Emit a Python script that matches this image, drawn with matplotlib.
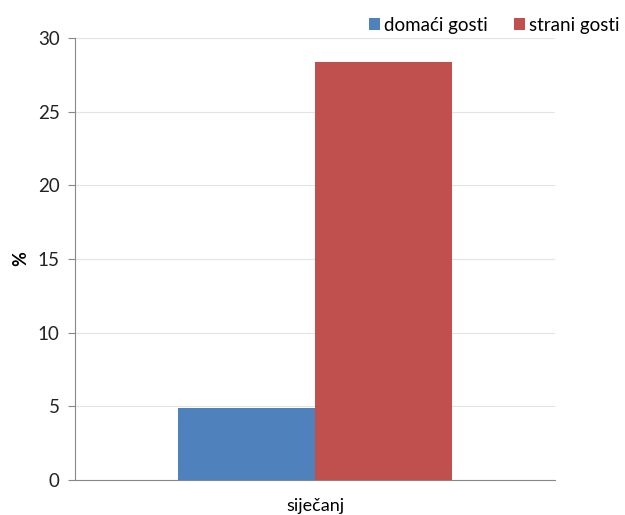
import matplotlib
matplotlib.use("Agg")
import matplotlib.pyplot as plt
import numpy as np

plt.rcParams['font.family'] = ['Lato', 'DejaVu Sans']

kategorije = ["siječanj"]
serije = ["domaći gosti", "strani gosti"]
domaci = [4.9]
strani = [28.4]
boje = ["#4F81BD", "#C0504D"]
y_ticks = [0, 5, 10, 15, 20, 25, 30]

fig = plt.figure(figsize=(6.25, 5.15), dpi=100)
ax = fig.add_axes([0.12, 0.068, 0.768, 0.858])

x = np.arange(len(kategorije))
w = 0.286
ax.bar(x - w / 2, domaci, width=w, color=boje[0], label=serije[0])
ax.bar(x + w / 2, strani, width=w, color=boje[1], label=serije[1])

ax.set_xlim(-0.5, 0.5)
ax.set_ylim(0, 30)
ax.set_yticks(y_ticks)
ax.set_xticks(x)
ax.set_xticklabels(kategorije)
ax.yaxis.grid(True, color="#E3E3E3", linewidth=0.8)
ax.set_axisbelow(True)

for s in ["top", "right"]:
    ax.spines[s].set_visible(False)
for s in ["left", "bottom"]:
    ax.spines[s].set_color("#888888")
ax.tick_params(axis="y", length=5, color="#888888", labelsize=13.5, labelcolor="#222222", pad=6)
ax.tick_params(axis="x", length=0, labelsize=13, pad=13)
ax.set_ylabel("%", fontsize=13, fontweight="bold", labelpad=6)

fig.legend(loc="upper right", bbox_to_anchor=(1.018, 1.0), ncol=2, frameon=False,
           fontsize=13.5, handlelength=0.6, handleheight=0.6, handletextpad=0.2,
           columnspacing=1.4)

fig.savefig("out.png", dpi=100)
